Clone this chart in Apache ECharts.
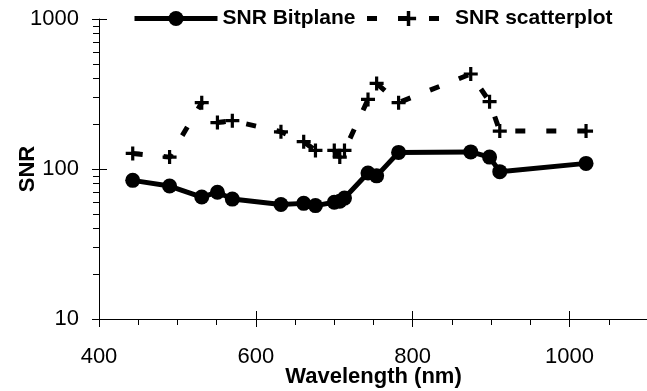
<!DOCTYPE html>
<html>
<head>
<meta charset="utf-8">
<script src="https://cdn.jsdelivr.net/npm/echarts@6/dist/echarts.min.js"></script>
<style>
html,body{margin:0;padding:0;background:#fff;}
#chart{width:647px;height:391px;}
</style>
</head>
<body>
<div id="chart"></div>
<script>
const wavelengths = [443, 490, 531, 551, 570, 632, 661, 676, 700, 707, 713, 743, 754, 782, 874, 898, 911, 1021];
const snrBitplane = [84, 77, 65, 70, 63, 58, 59, 57, 60, 61, 64, 94, 90, 129, 130, 120, 96, 109];
const snrScatter = [127, 120, 277, 204, 210, 177, 152, 133, 133, 120, 133, 291, 372, 277, 430, 281, 179, 179];
const xTicks = [400, 600, 800, 1000];
const xMinorTicks = [450, 500, 550, 650, 700, 750, 850, 900, 950, 1050];
const yTicks = [10, 100, 1000];
const yMinorTicks = [20, 30, 40, 50, 60, 70, 80, 90, 200, 300, 400, 500, 600, 700, 800, 900];

const FONT = "'Liberation Sans', Arial, Helvetica, sans-serif";
const plusPath = 'path://M-1.6 -7 L1.6 -7 L1.6 -1.6 L7 -1.6 L7 1.6 L1.6 1.6 L1.6 7 L-1.6 7 L-1.6 1.6 L-7 1.6 L-7 -1.6 L-1.6 -1.6 Z';

const pairs = (ys) => wavelengths.map((x, i) => [x, ys[i]]);

const chart = echarts.init(document.getElementById('chart'), null, {renderer: 'canvas'});
const axisLineStyle = {color: '#000', width: 1};
const baseX = {type: 'value', min: 400, max: 1100, interval: 200, position: 'bottom', splitLine: {show: false}};
const baseY = {type: 'log', logBase: 10, min: 10, max: 1000, position: 'left', splitLine: {show: false}};
const plain = (v) => String(Math.round(v));

chart.setOption({
  animation: false,
  backgroundColor: '#fff',
  textStyle: {fontFamily: FONT},
  grid: {left: 99, right: -1, top: 19, bottom: 72, containLabel: false, outerBoundsMode: 'none'},
  legend: {
    left: 132, top: 8, padding: 0,
    itemWidth: 83, itemHeight: 19, itemGap: 9,
    lineStyle: {width: 5},
    textStyle: {fontFamily: FONT, fontSize: 21, fontWeight: 'bold', color: '#000'},
    data: ['SNR Bitplane', 'SNR scatterplot']
  },
  xAxis: [
    Object.assign({}, baseX, {
      name: 'Wavelength (nm)', nameLocation: 'middle', nameGap: 47, nameMoveOverlap: false,
      nameTextStyle: {fontFamily: FONT, fontSize: 22, fontWeight: 'bold', color: '#000'},
      axisLine: {show: true, onZero: false, lineStyle: axisLineStyle},
      axisTick: {show: true, length: 8, customValues: xTicks, lineStyle: axisLineStyle},
      axisLabel: {show: true, customValues: xTicks, margin: 27, fontFamily: FONT, fontSize: 22, color: '#000', formatter: plain}
    }),
    Object.assign({}, baseX, {
      axisLine: {show: false, onZero: false},
      axisTick: {show: true, length: 6, customValues: xMinorTicks, lineStyle: axisLineStyle},
      axisLabel: {show: false}
    }),
    Object.assign({}, baseX, {
      axisLine: {show: false, onZero: false},
      axisTick: {show: true, inside: true, length: 8, customValues: xTicks, lineStyle: axisLineStyle},
      axisLabel: {show: false}
    })
  ],
  yAxis: [
    Object.assign({}, baseY, {
      name: 'SNR', nameLocation: 'middle', nameGap: 60, nameRotate: 90, nameMoveOverlap: false,
      nameTextStyle: {fontFamily: FONT, fontSize: 22, fontWeight: 'bold', color: '#000'},
      axisLine: {show: true, onZero: false, lineStyle: axisLineStyle},
      axisTick: {show: true, length: 7, customValues: yTicks, lineStyle: axisLineStyle},
      axisLabel: {show: true, customValues: yTicks, margin: 20, fontFamily: FONT, fontSize: 22, color: '#000', formatter: plain}
    }),
    Object.assign({}, baseY, {
      axisLine: {show: false, onZero: false},
      axisTick: {show: true, length: 6, customValues: yMinorTicks, lineStyle: axisLineStyle},
      axisLabel: {show: false}
    }),
    Object.assign({}, baseY, {
      axisLine: {show: false, onZero: false},
      axisTick: {show: true, inside: true, length: 8, customValues: yTicks, lineStyle: axisLineStyle},
      axisLabel: {show: false}
    })
  ],
  series: [
    {
      name: 'SNR Bitplane', type: 'line', xAxisIndex: 0, yAxisIndex: 0,
      data: pairs(snrBitplane),
      symbol: 'circle', symbolSize: 15,
      itemStyle: {color: '#000'},
      lineStyle: {color: '#000', width: 5},
      z: 3
    },
    {
      name: 'SNR scatterplot', type: 'line', xAxisIndex: 0, yAxisIndex: 0,
      data: pairs(snrScatter),
      symbol: plusPath, symbolSize: 14,
      itemStyle: {color: '#000'},
      lineStyle: {color: '#000', width: 5, type: [10, 21]},
      z: 2
    }
  ]
});
</script>
</body>
</html>
